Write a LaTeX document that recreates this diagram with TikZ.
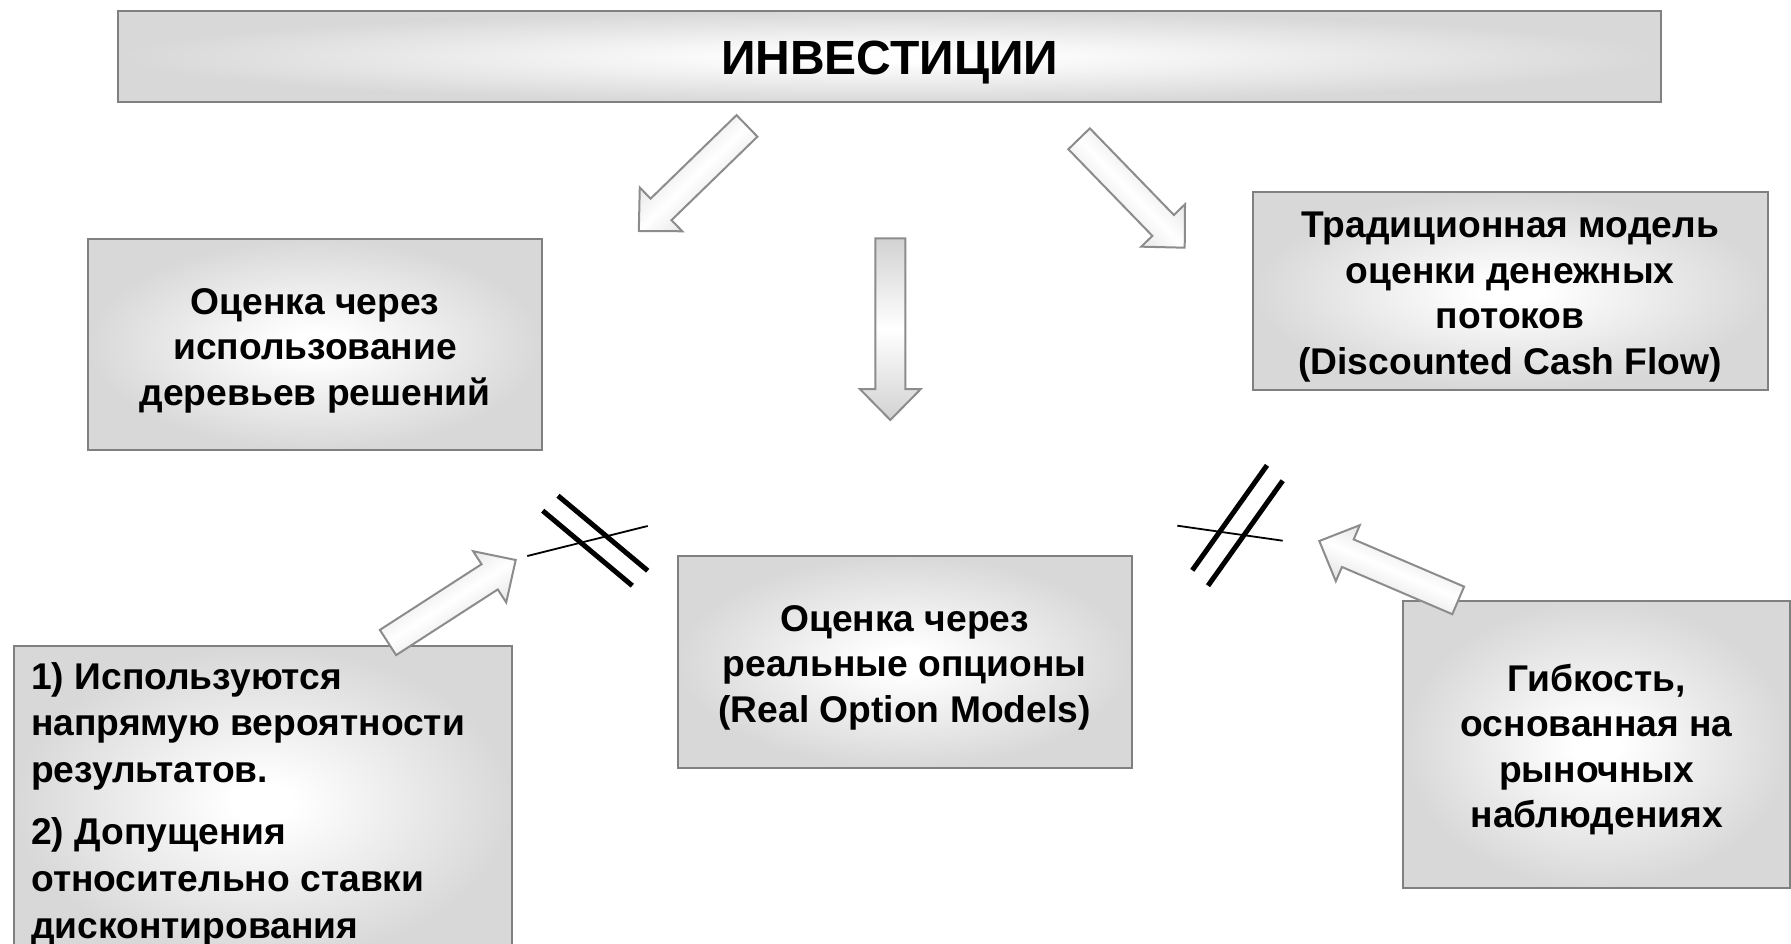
\documentclass[tikz,border=0pt]{standalone}
\usepackage{fontspec}
\setmainfont{Liberation Sans}
\usetikzlibrary{calc}
\definecolor{boxline}{HTML}{808080}
\definecolor{boxedge}{HTML}{D8D8D8}
\definecolor{arrline}{HTML}{8C8C8C}
\definecolor{arrdark}{HTML}{D2D2D2}
\pgfdeclareradialshading{boxshade}{\pgfpoint{0bp}{0bp}}{color(0bp)=(white); color(3bp)=(white); color(25bp)=(boxedge); color(50bp)=(boxedge)}
\newcommand{\blockarrow}[3]{%
  \coordinate (ba-h) at ($(#2)!31pt!(#1)$);
  \draw[blockarr,#3] ($(#1)!15pt!90:(#2)$) -- ($(ba-h)!15pt!-90:(#1)$) -- ($(ba-h)!30.5pt!-90:(#1)$) -- (#2)
     -- ($(ba-h)!30.5pt!90:(#1)$) -- ($(ba-h)!15pt!90:(#1)$) -- ($(#1)!15pt!-90:(#2)$) -- cycle;
}
\begin{document}
\begin{tikzpicture}[x=1pt,y=-1pt,
  box/.style={draw=boxline, line width=2pt, shading=boxshade, rectangle, inner sep=0pt, outer sep=0pt},
  boxtext/.style={inner sep=0pt, align=center, font=\bfseries\fontsize{37.2}{45.5}\selectfont},
  blockarr/.style={draw=arrline, line width=2pt, line join=miter, top color=arrdark, bottom color=arrdark, middle color=white},
  thinline/.style={line width=1.8pt, black},
  thickline/.style={line width=5pt, black},
]
\useasboundingbox (0,0) rectangle (1791,944);

% boxes
\node[box, minimum width=1542.6pt, minimum height=91.5pt] (inv) at (889.7,56.75) {};
\node[boxtext, font=\bfseries\fontsize{48}{55}\selectfont] (inv-t) at ([yshift=-6pt]inv.center) {ИНВЕСТИЦИИ};
\node[box, minimum width=454pt, minimum height=211pt] (tree) at (315,344.5) {};
\node[boxtext] (tree-t) at ([yshift=-6pt]tree.center) {Оценка через\\использование\\деревьев решений};
\node[box, minimum width=515.3pt, minimum height=197.5pt] (dcf) at (1510.2,291.25) {};
\node[boxtext] (dcf-t) at ([yshift=-6pt]dcf.center) {Традиционная модель\\оценки денежных\\потоков\\(Discounted Cash Flow)};
\node[box, minimum width=454.2pt, minimum height=211.8pt] (rom) at (904.6,661.6) {};
\node[boxtext] (rom-t) at ([yshift=-6pt]rom.center) {Оценка через\\реальные опционы\\(Real Option Models)};
\node[box, minimum width=498.3pt, minimum height=314pt] (prob) at (262.9,803) {};
\node[anchor=north west, inner sep=0pt, align=left, font=\bfseries\fontsize{37.2}{46.8}\selectfont] (prob-t) at (31,662)
  {1) Используются\\напрямую вероятности\\результатов.\\[15pt]2) Допущения\\относительно ставки\\дисконтирования};
\node[box, minimum width=386.7pt, minimum height=287.6pt] (flex) at (1596.7,744.5) {};
\node[boxtext] (flex-t) at ([yshift=-5pt]flex.center) {Гибкость,\\основанная на\\рыночных\\наблюдениях};

% block arrows
\coordinate (aL-t) at (747,125.9);   \coordinate (aL-p) at (638.8,231);
\coordinate (aR-t) at (1079.1,138.8); \coordinate (aR-p) at (1184.7,247.7);
\coordinate (aD-t) at (890.3,238.3);  \coordinate (aD-p) at (890.3,420);
\coordinate (aU-t) at (388,642.5);    \coordinate (aU-p) at (515.7,560);
\coordinate (aF-t) at (1458.2,600.4); \coordinate (aF-p) at (1319.3,541);
\blockarrow{aL-t}{aL-p}{shading angle=44}
\blockarrow{aR-t}{aR-p}{shading angle=-46}
\blockarrow{aD-t}{aD-p}{shading angle=0}
\blockarrow{aU-t}{aU-p}{shading angle=33}
\blockarrow{aF-t}{aF-p}{shading angle=-23}

% "not equal" marks
\coordinate (l1a) at (527.3,556);   \coordinate (l1b) at (647.7,526);
\coordinate (l2a) at (542.7,510.7); \coordinate (l2b) at (632.3,585.7);
\coordinate (l3a) at (558,495.7);   \coordinate (l3b) at (647.7,570.7);
\draw[thinline] (l1a) -- (l1b);
\draw[thickline] (l2a) -- (l2b);
\draw[thickline] (l3a) -- (l3b);
\coordinate (r1a) at (1177.3,525.7); \coordinate (r1b) at (1282.7,540.7);
\coordinate (r2a) at (1267,465.3);   \coordinate (r2b) at (1192.3,570.3);
\coordinate (r3a) at (1282.7,480.7); \coordinate (r3b) at (1208,585.7);
\draw[thinline] (r1a) -- (r1b);
\draw[thickline] (r2a) -- (r2b);
\draw[thickline] (r3a) -- (r3b);
\end{tikzpicture}
\end{document}
